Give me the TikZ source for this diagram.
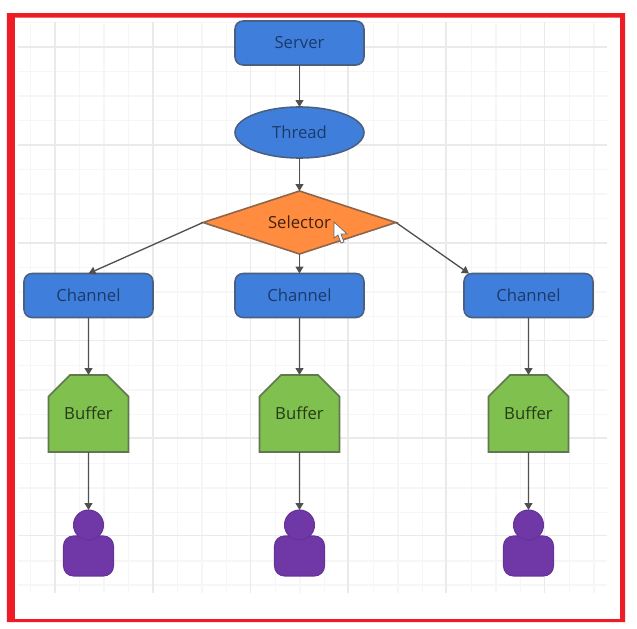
\documentclass[tikz,border=0pt]{standalone}
\usepackage{fontspec}
\setmainfont{Open Sans}
\usetikzlibrary{shapes.geometric,shapes.misc,arrows.meta}
\definecolor{gridline}{HTML}{EAEAEA}
\definecolor{gridminor}{HTML}{F6F6F6}
\definecolor{frame}{HTML}{EE1C25}
\definecolor{boxblue}{HTML}{3F7FDB}
\definecolor{textblue}{HTML}{1B3A6B}
\definecolor{boxorange}{HTML}{FF8C3F}
\definecolor{boxgreen}{HTML}{7FC04F}
\definecolor{boxpurple}{HTML}{7038A6}
\definecolor{edgeline}{HTML}{505050}
\tikzset{
  flowbox/.style={draw=#1!35!edgeline,line width=0.9pt,inner sep=0pt,outer sep=0pt,fill=#1,font=\fontsize{9.5pt}{11pt}\selectfont},
  channelbox/.style={flowbox=boxblue,text=textblue,rectangle,rounded corners=0.16cm,minimum width=2.58cm,minimum height=0.88cm},
  threadbox/.style={flowbox=boxblue,text=textblue,ellipse,minimum width=2.58cm,minimum height=1.02cm},
  selectorbox/.style={flowbox=boxorange,text=black!75!boxorange,diamond,shape aspect=3.06,minimum width=3.86cm,minimum height=1.26cm},
  bufferbox/.style={flowbox=boxgreen,text=black!70!boxgreen,chamfered rectangle,chamfered rectangle corners={north west,north east},chamfered rectangle xsep=0.3cm,chamfered rectangle ysep=0.3cm,minimum width=1.6cm,minimum height=1.54cm},
  headnode/.style={draw=boxpurple!90!black,line width=0.6pt,fill=boxpurple,circle,inner sep=0pt,outer sep=0pt,minimum size=0.6cm},
  bodynode/.style={draw=boxpurple!90!black,line width=0.6pt,fill=boxpurple,rectangle,rounded corners=0.2cm,inner sep=0pt,outer sep=0pt,minimum width=1cm,minimum height=0.8cm},
  flow/.style={draw=edgeline,line width=0.75pt,-{Triangle[length=0.14cm,width=0.16cm]}}
}
\begin{document}
\begin{tikzpicture}[x=0.02cm,y=-0.02cm]
  \useasboundingbox (0,0) rectangle (637,629);
  \fill [white] (0,0) rectangle (637,629);
  % grid
  \foreach \x in {30.5,79.5,104,128.5,177.5,202,226.5,275.5,300,324.5,373.5,398,422.5,471.5,496,520.5,569.5,594}
    \draw [gridminor,line width=0.7pt] (\x,22) -- (\x,593);
  \foreach \y in {22.5,71.5,96,120.5,169.5,194,218.5,267.5,292,316.5,365.5,390,414.5,463.5,488,512.5,561,585}
    \draw [gridminor,line width=0.7pt] (18,\y) -- (607,\y);
  \foreach \x in {55,153,250.5,348,446,544.5}
    \draw [gridline,line width=0.7pt] (\x,22) -- (\x,593);
  \foreach \y in {47,145,243,340.5,438,535.5}
    \draw [gridline,line width=0.7pt] (18,\y) -- (607,\y);
  \fill [frame,even odd rule] (7,13) rectangle (625,622) (15,17.5) rectangle (620,619);
  % nodes
  \node [channelbox] (server) at (299.5,43) {Server};
  \node [threadbox] (thread) at (299.5,132.5) {Thread};
  \node [selectorbox] (selector) at (299.5,222.5) {Selector};
  \node [channelbox] (channelA) at (88.5,295.5) {Channel};
  \node [channelbox] (channelB) at (299.5,295.5) {Channel};
  \node [channelbox] (channelC) at (528.5,295.5) {Channel};
  \node [bufferbox] (bufferA) at (88.5,413.5) {Buffer};
  \node [bufferbox] (bufferB) at (299.5,413.5) {Buffer};
  \node [bufferbox] (bufferC) at (528.5,413.5) {Buffer};
  \node [bodynode] (bodyA) at (88.5,556) {};
  \node [bodynode] (bodyB) at (299.5,556) {};
  \node [bodynode] (bodyC) at (528.5,556) {};
  \node [headnode] (headA) at (88.5,525) {};
  \node [headnode] (headB) at (299.5,525) {};
  \node [headnode] (headC) at (528.5,525) {};
  % connectors
  \draw [flow] (server) -- (thread);
  \draw [flow] (thread) -- (selector);
  \draw [flow] (selector.south) -- (channelB.north);
  \draw [flow] (selector.west) -- (channelA.north);
  \draw [flow] (selector.east) -- ([xshift=0.1cm]channelC.north west);
  \draw [flow] (channelA) -- (bufferA);
  \draw [flow] (channelB) -- (bufferB);
  \draw [flow] (channelC) -- (bufferC);
  \draw [flow] (bufferA) -- (headA);
  \draw [flow] (bufferB) -- (headB);
  \draw [flow] (bufferC) -- (headC);
  % mouse pointer
  \draw [fill=white,draw=black!60,line width=0.4pt] (334,222) -- (334,238) -- (338,235) -- (341,243) -- (344,242) -- (341,234) -- (347,234) -- cycle;
\end{tikzpicture}
\end{document}
